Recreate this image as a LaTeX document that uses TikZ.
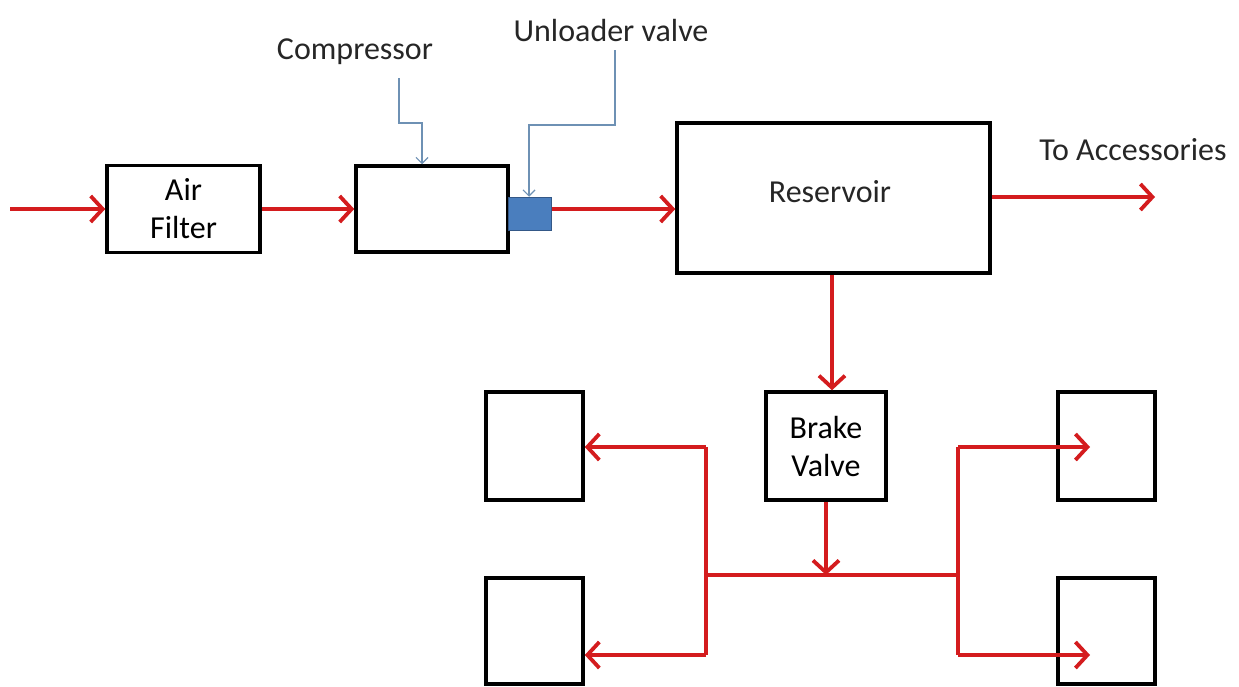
\documentclass[tikz,border=0pt]{standalone}
\usepackage{fontspec}
\setmainfont{Carlito}
\usetikzlibrary{arrows.meta}
\definecolor{flow}{RGB}{212,28,30}
\definecolor{callc}{RGB}{110,145,180}
\definecolor{valvefill}{RGB}{74,126,190}
\definecolor{valveline}{RGB}{52,88,135}
\tikzset{
  blk/.style={draw=black, line width=3.5pt, fill=white, inner sep=0pt, align=center},
  flowline/.style={draw=flow, line width=3.5pt},
  flowarrow/.style={flowline, -{Straight Barb[length=12pt,width=26pt,line width=3.8pt]}},
  callout/.style={draw=callc, line width=1.2pt, -{Straight Barb[length=6pt,width=12pt,line width=1.2pt]}},
  lbl/.style={inner sep=0pt, text=black!85},
}
\begin{document}
\begin{tikzpicture}[x=1pt,y=-1pt,font=\fontsize{32}{38}\selectfont]
\useasboundingbox (0,0) rectangle (1239,686);
% boxes
\node[blk, minimum width=153pt, minimum height=87pt] (af) at (183.5,209) {Air\\Filter};
\node[blk, minimum width=152pt, minimum height=86pt] (cp) at (432,209) {};
\node[draw=valveline, fill=valvefill, line width=1.5pt, minimum width=43pt, minimum height=33pt, inner sep=0pt] (uv) at (530,214) {};
\node[blk, minimum width=313pt, minimum height=150pt] (res) at (833.5,198) {};
\node[lbl] (restext) at (830,192) {Reservoir};
\node[blk, minimum width=120pt, minimum height=108pt] (bv) at (826,446) {Brake\\Valve};
\node[blk, minimum width=97pt, minimum height=108pt] (lb1) at (534.5,446) {};
\node[blk, minimum width=97pt, minimum height=106pt] (lb2) at (534.5,631) {};
\node[blk, minimum width=97pt, minimum height=108pt] (rb1) at (1106.5,446) {};
\node[blk, minimum width=97pt, minimum height=106pt] (rb2) at (1106.5,631) {};
% labels
\node[lbl] (cl) at (355,52) {Compressor};
\node[lbl] (ul) at (611,31) {Unloader valve};
\node[lbl] (al) at (1133,150) {To Accessories};
% coordinates
\coordinate (in) at (10,209);
\coordinate (acc) at (1155,197);
\coordinate (j) at (826,575);
\coordinate (jl) at (706,575);
\coordinate (jr) at (958,575);
\coordinate (ltop) at (706,447);
\coordinate (lbot) at (706,655);
\coordinate (rtop) at (958,447);
\coordinate (rbot) at (958,655);
\coordinate (rt1) at (1090,447);
\coordinate (rt2) at (1090,655);
\coordinate (c1) at (399,78);
\coordinate (c2) at (422,123);
\coordinate (u1) at (615,50);
\coordinate (u2) at (529,125);
% flow
\draw[flowarrow] (in) -- (af.west);
\draw[flowarrow] (af.east) -- (cp.west);
\draw[flowarrow] (uv.east |- cp.west) -- (cp.west -| res.west);
\draw[flowarrow] (res.east |- acc) -- (acc);
\draw[flowarrow] (res.south -| 832,0) -- (832,0 |- bv.north);
\draw[flowarrow] (bv.south |- bv.south) -- (j);
\draw[flowline] (jl) -- (jr);
\draw[flowline] (ltop) -- (lbot);
\draw[flowline] (rtop) -- (rbot);
\draw[flowarrow] (ltop) -- (ltop -| lb1.east);
\draw[flowarrow] (lbot) -- (lbot -| lb2.east);
\draw[flowarrow] (rtop) -- (rt1);
\draw[flowarrow] (rbot) -- (rt2);
% callouts
\draw[callout] (c1) |- (c2) -- (c2 |- cp.north);
\draw[callout] (u1) |- (u2) -- (u2 |- uv.north);
\end{tikzpicture}
\end{document}
